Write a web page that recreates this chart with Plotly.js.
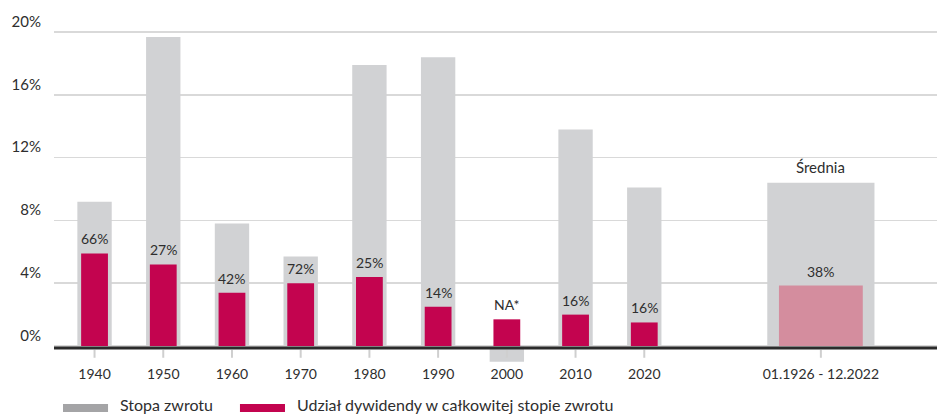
<!DOCTYPE html>
<html>
<head>
<meta charset="utf-8">
<script src="https://cdn.plot.ly/plotly-3.0.1.min.js"></script>
<style>html,body{margin:0;padding:0;background:#fff;}#chart{width:937px;height:416px;}</style>
</head>
<body>
<div id="chart"></div>
<script>
// Data
var categories = ['1940','1950','1960','1970','1980','1990','2000','2010','2020','01.1926 - 12.2022'];
var totalReturn = [9.2, 19.7, 7.8, 5.7, 17.9, 18.4, -1.0, 13.8, 10.1, 10.4];   // Stopa zwrotu (%)
var dividendPart = [5.9, 5.2, 3.4, 4.0, 4.4, 2.5, 1.7, 2.0, 1.5, 3.85];          // dividend component (%)
var shareLabels = ['66%','27%','42%','72%','25%','14%','NA*','16%','16%','38%'];
var averageTitle = 'Średnia';
var legendNames = ['Stopa zwrotu', 'Udział dywidendy w całkowitej stopie zwrotu'];

// Layout helpers (positions, not data)
var n = categories.length;
var avgPos = 10.57;
var xpos = categories.map(function(c, i){ return i < n - 1 ? i : avgPos; });
var grayW = xpos.map(function(p, i){ return i < n - 1 ? 0.5 : 1.56; });
var pinkW = xpos.map(function(p, i){ return i < n - 1 ? 0.39 : 1.22; });
var pinkCol = xpos.map(function(p, i){ return i < n - 1 ? '#c3044f' : '#d48d9e'; });

var FONT = 'Lato, "Open Sans", sans-serif';
var TXT = '#2e2e2e';

var traces = [
  {type:'bar', x:xpos, y:totalReturn, width:grayW, marker:{color:'#d1d2d4'}, name:legendNames[0], showlegend:false, hoverinfo:'skip'},
  {type:'bar', x:xpos, y:dividendPart, width:pinkW, marker:{color:pinkCol}, name:legendNames[1], showlegend:false, hoverinfo:'skip'}
];

var annotations = [];
for (var i = 0; i < n; i++) {
  annotations.push({x:xpos[i], y:dividendPart[i], xref:'x', yref:'y', text:shareLabels[i], showarrow:false,
    yanchor:'bottom', yshift:4, font:{family:FONT, size:14, color:TXT}});
}
annotations.push({x:xpos[n-1], y:totalReturn[n-1], xref:'x', yref:'y', text:averageTitle, showarrow:false,
  yanchor:'bottom', yshift:5, font:{family:FONT, size:15, color:TXT}});

var shapes = [];
// x ticks below the axis line
for (var j = 0; j < n; j++) {
  shapes.push({type:'line', xref:'x', yref:'y', x0:xpos[j], x1:xpos[j], y0:-0.25, y1:-0.75, line:{color:'#cfcfcf', width:2}, layer:'above'});
}
// baseline
shapes.push({type:'line', xref:'paper', yref:'y', x0:0, x1:1, y0:-0.12, y1:-0.12, line:{color:'#2b2b2b', width:3}, layer:'above'});

// legend (custom wide swatches)
var legY = -0.1209;     // swatch centre
var legTxtY = -0.1115;  // text centre (kept inside the page)
shapes.push({type:'rect', xref:'paper', yref:'paper', x0:0.0102, x1:0.0612, y0:legY-0.011, y1:legY+0.011, fillcolor:'#a4a4a6', line:{width:0}});
shapes.push({type:'rect', xref:'paper', yref:'paper', x0:0.2106, x1:0.2616, y0:legY-0.011, y1:legY+0.011, fillcolor:'#c3044f', line:{width:0}});
annotations.push({xref:'paper', yref:'paper', x:0.0725, y:legTxtY, xanchor:'left', yanchor:'middle', text:legendNames[0], showarrow:false, font:{family:FONT, size:16, color:TXT}});
annotations.push({xref:'paper', yref:'paper', x:0.2729, y:legTxtY, xanchor:'left', yanchor:'middle', text:legendNames[1], showarrow:false, font:{family:FONT, size:16, color:TXT}});

var layout = {
  width:937, height:416,
  margin:{l:54, r:0, t:0, b:52},
  paper_bgcolor:'#ffffff', plot_bgcolor:'#ffffff',
  barmode:'overlay',
  showlegend:false,
  font:{family:FONT, color:TXT},
  xaxis:{range:[-0.59, 12.26], tickvals:xpos, ticktext:categories, showgrid:false, zeroline:false,
         showline:false, ticks:'', tickfont:{family:FONT, size:14, color:TXT}, fixedrange:true},
  yaxis:{range:[-1.147, 22.05], tickvals:[0,4,8,12,16,20], ticktext:['0%','4%','8%','12%','16%','20%'],
         showgrid:true, gridcolor:'#d9d9d9', gridwidth:1.5, zeroline:false, showline:false, ticks:'',
         ticklabelposition:'outside top', ticklabelstandoff:12, tickfont:{family:FONT, size:15, color:TXT}, fixedrange:true},
  shapes:shapes,
  annotations:annotations
};

Plotly.newPlot('chart', traces, layout, {staticPlot:true, displayModeBar:false});
</script>
</body>
</html>
